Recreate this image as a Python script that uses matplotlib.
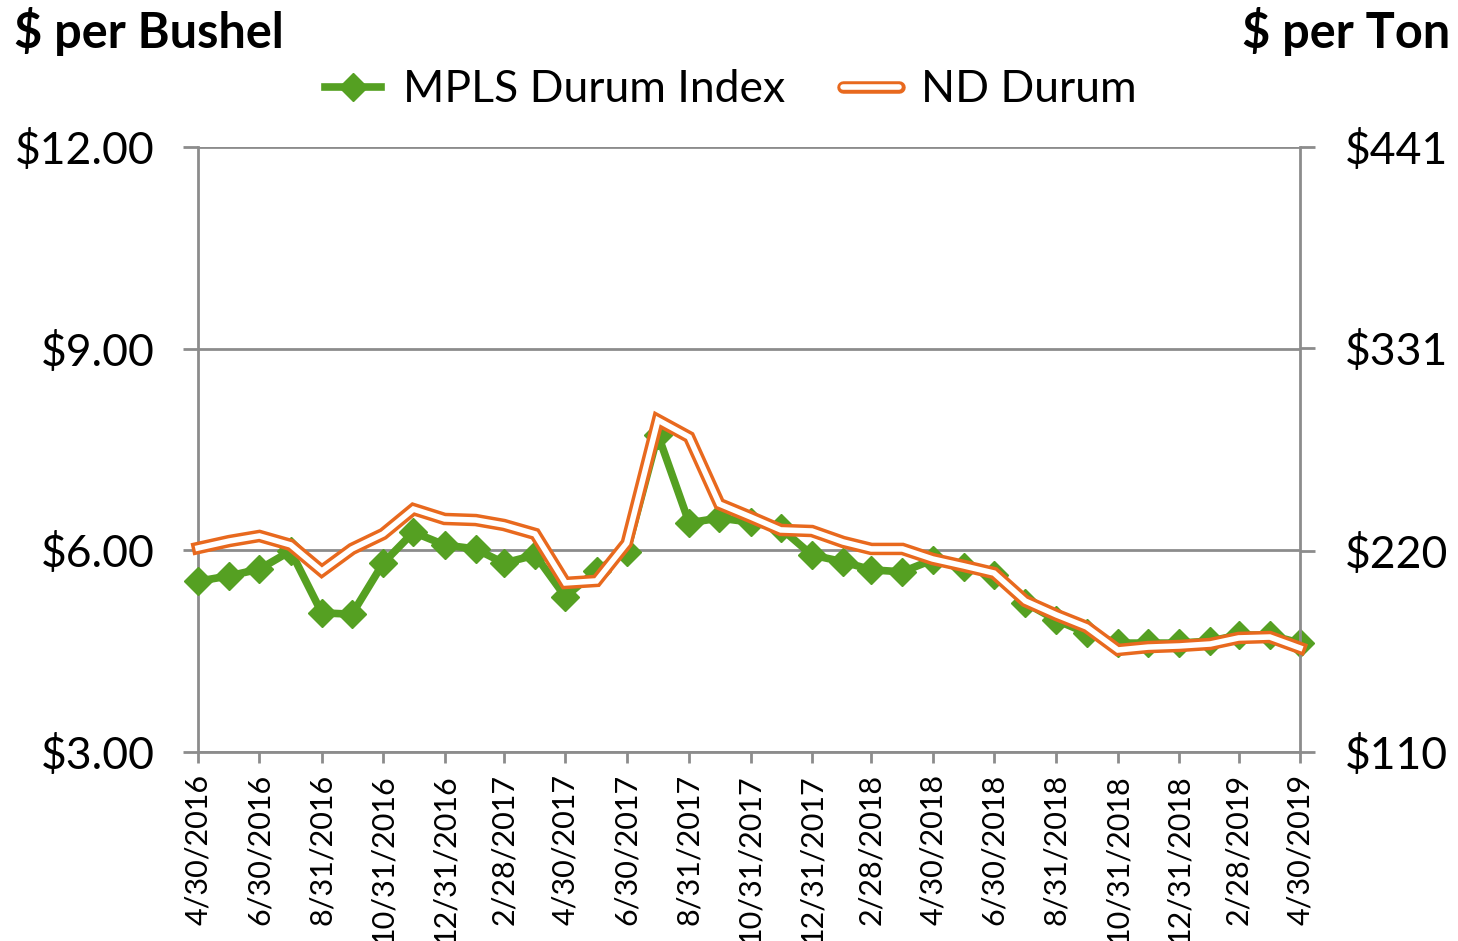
import matplotlib
matplotlib.use("Agg")
import matplotlib.pyplot as plt
from matplotlib.lines import Line2D
from matplotlib.legend_handler import HandlerTuple
import pandas as pd

plt.rcParams['font.family'] = ['Lato', 'DejaVu Sans']

dates = ["4/30/2016", "5/31/2016", "6/30/2016", "7/31/2016", "8/31/2016", "9/30/2016",
         "10/31/2016", "11/30/2016", "12/31/2016", "1/31/2017", "2/28/2017", "3/31/2017",
         "4/30/2017", "5/31/2017", "6/30/2017", "7/31/2017", "8/31/2017", "9/30/2017",
         "10/31/2017", "11/30/2017", "12/31/2017", "1/31/2018", "2/28/2018", "3/31/2018",
         "4/30/2018", "5/31/2018", "6/30/2018", "7/31/2018", "8/31/2018", "9/30/2018",
         "10/31/2018", "11/30/2018", "12/31/2018", "1/31/2019", "2/28/2019", "3/31/2019",
         "4/30/2019"]

# MPLS Durum Index, $ per bushel (left axis)
mpls = [5.54, 5.62, 5.72, 5.99, 5.07, 5.05, 5.81, 6.27, 6.08, 6.02, 5.81, 5.93,
        5.31, 5.70, 5.98, 7.72, 6.41, 6.48, 6.42, 6.33, 5.93, 5.83, 5.71, 5.68,
        5.86, 5.75, 5.63, 5.22, 4.96, 4.77, 4.62, 4.62, 4.62, 4.65, 4.74, 4.74,
        4.62]

# ND Durum, $ per ton (right axis)
nd = [221.6, 225.4, 228.2, 223.3, 209.0, 221.1, 229.3, 242.9, 237.5, 236.9, 234.2, 229.3,
      202.5, 203.6, 224.3, 291.6, 282.3, 245.7, 238.6, 231.5, 230.9, 224.9, 221.1, 221.1,
      215.6, 211.8, 207.9, 192.6, 185.0, 178.4, 165.8, 167.4, 168.0, 169.1, 172.4, 172.9,
      166.9]

left_ticks = [3, 6, 9, 12]
left_labels = ["$3.00", "$6.00", "$9.00", "$12.00"]
right_ticks = [110, 220, 331, 441]
right_labels = ["$110", "$220", "$331", "$441"]

x = pd.to_datetime(dates, format="%m/%d/%Y")
tick_dates = x[::2]
tick_labels = dates[::2]

GREEN = "#55A022"
ORANGE = "#E8691E"
GRID = "#8C8C8C"

fig = plt.figure(figsize=(14.58, 9.41), dpi=100)
ax = fig.add_axes([198/1458, 1-752/941, (1300-198)/1458, (752-147)/941])
ax2 = ax.twinx()

ax.plot(x, mpls, color=GREEN, lw=5.5, marker="D", ms=14, mec=GREEN, mfc=GREEN,
        zorder=3, clip_on=False)
ax2.plot(x, nd, color=ORANGE, lw=9.0, solid_joinstyle="miter", zorder=3, clip_on=False)
ax2.plot(x, nd, color="white", lw=4.0, solid_joinstyle="miter", zorder=4, clip_on=False)

ax.set_xlim(x[0], x[-1])
ax.set_ylim(3, 12)
ax2.set_ylim(110, 441)

ax.set_yticks(left_ticks)
ax.set_yticklabels(left_labels)
ax2.set_yticks(right_ticks)
ax2.set_yticklabels(right_labels)
ax.set_xticks(tick_dates)
ax.set_xticklabels(tick_labels, rotation=90, va="top", ha="center")

for a in (ax, ax2):
    for s in a.spines.values():
        s.set_visible(False)
ax.spines["left"].set_visible(True)
ax.spines["left"].set_color(GRID)
ax.spines["left"].set_linewidth(2)
ax2.spines["right"].set_visible(True)
ax2.spines["right"].set_color(GRID)
ax2.spines["right"].set_linewidth(2)
ax.spines["bottom"].set_visible(True)
ax.spines["bottom"].set_color(GRID)
ax.spines["bottom"].set_linewidth(2)

ax.grid(axis="y", color=GRID, lw=2)
ax.set_axisbelow(True)

ax.tick_params(axis="y", direction="out", length=11, width=2, color=GRID,
               labelsize=32, pad=20)
ax2.tick_params(axis="y", direction="out", length=11, width=2, color=GRID,
                labelsize=32, pad=21)
ax.tick_params(axis="x", direction="out", length=8, width=2, color=GRID,
               labelsize=22, pad=8)

fig.text(14/1458, 1-31/941, "$ per Bushel", fontsize=35, fontweight="bold",
         ha="left", va="center")
fig.text(1450/1458, 1-31/941, "$ per Ton", fontsize=35, fontweight="bold",
         ha="right", va="center")

h1 = Line2D([], [], color=GREEN, lw=5.5, marker="D", ms=14)
h2a = Line2D([], [], color=ORANGE, lw=9.0, solid_capstyle="round")
h2b = Line2D([], [], color="white", lw=4.0, solid_capstyle="round")
fig.legend([h1, (h2a, h2b)], ["MPLS Durum Index", "ND Durum"],
           handler_map={tuple: HandlerTuple(ndivide=1, pad=0)},
           loc="center", bbox_to_anchor=(731/1458, 1-90/941), ncol=2,
           frameon=False, fontsize=32, handlelength=1.25, columnspacing=1.3,
           handletextpad=0.5)

fig.savefig("out.png", dpi=100)
